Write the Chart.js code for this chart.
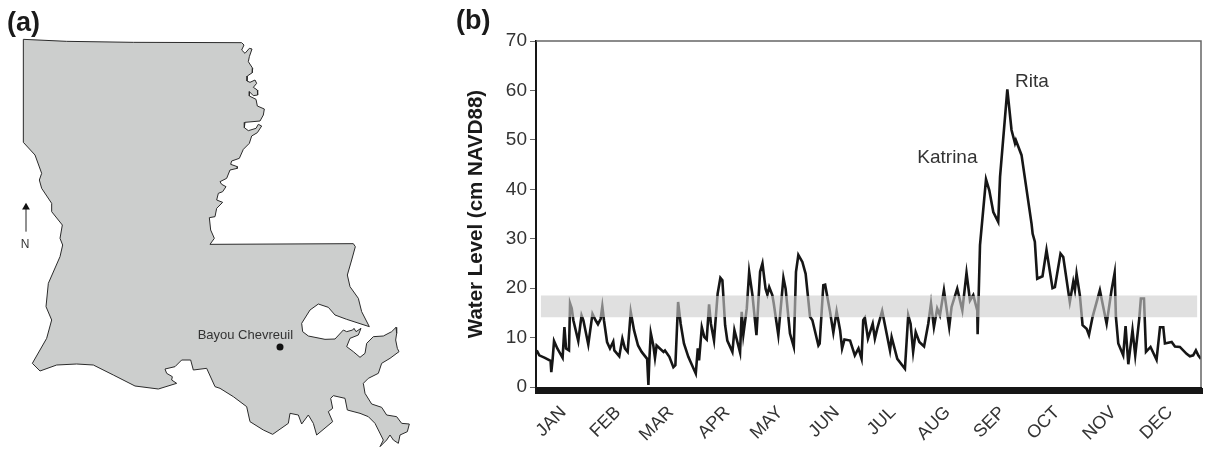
<!DOCTYPE html>
<html>
<head>
<meta charset="utf-8">
<title>Bayou Chevreuil water level</title>
<script src="https://cdn.jsdelivr.net/npm/chart.js@4"></script>
<style>
  body { margin: 0; background: #fff; width: 1205px; height: 449px; overflow: hidden; position: relative; }
  canvas { position: absolute; top: 0; }
  #map-chart { left: 0; }
  #level-chart { left: 450px; }
  .panel { position: absolute; font: bold 27px "Liberation Sans", sans-serif; color: #1a1a1a; }
</style>
</head>
<body>
<canvas id="map-chart" width="450" height="449"></canvas>
<canvas id="level-chart" width="755" height="449"></canvas>
<div class="panel" style="left:7px;top:7px">(a)</div>
<div class="panel" style="left:456px;top:5px">(b)</div>
<script>
  const months = ['JAN', 'FEB', 'MAR', 'APR', 'MAY', 'JUN', 'JUL', 'AUG', 'SEP', 'OCT', 'NOV', 'DEC'];
  const monthDays = [15, 45, 74, 105, 134, 165, 196, 226, 256, 286, 317, 348];
  const yTicks = [0, 10, 20, 30, 40, 50, 60, 70];

  const days = [
    0.4, 1.8, 4.9, 8, 8.4, 9.1, 9.9, 11.7, 14.6, 15.6, 16.5, 18.1, 18.7, 19.6, 20.5, 23.2, 25, 26, 28.7, 31,
    32.7, 34, 35.5, 36.4, 37.3, 39, 40.6, 42.4, 43, 45.7, 47.4, 48.8, 50.3, 52, 53.8, 56, 58, 61, 61.7, 62.2,
    63, 64.4, 65.3, 66.2, 70, 70.8, 73.2, 75.4, 76.5, 78, 79.4, 81.2, 83.6, 87.7, 88.8, 89.5, 91, 92.4, 93.7, 95,
    96, 97.7, 99.7, 101.2, 102.3, 103.8, 105, 107.8, 108.9, 112, 112.9, 113.8, 115.7, 117, 118.8, 121, 123, 124.3, 126, 127,
    128, 129.7, 130.5, 133, 135.8, 137, 139.4, 141.5, 142.7, 144, 146.2, 148, 150.4, 151.7, 155, 155.7, 157.7, 158.7, 161.4, 163.2,
    165, 166.9, 168, 169.3, 172.4, 175, 177, 178.7, 179.6, 180.5, 182.2, 184.8, 186, 187.3, 190, 194.3, 195.2, 198.3, 202.5, 204.3,
    205.6, 207, 208.4, 210.4, 213, 215.3, 216.8, 218.4, 220.2, 221.7, 223.9, 226.8, 228.1, 231.2, 234, 236.3, 238.2, 240, 242.2, 242.4,
    243.7, 247, 248.8, 251, 253.7, 254.7, 258.7, 261, 262.9, 263.4, 266.5, 272, 272.6, 273.8, 275.1, 278, 280.2, 283.5, 284.8, 287.9,
    289.4, 293, 294.9, 295.8, 296.7, 298.5, 300, 302.2, 303.5, 305.5, 309.5, 313.2, 315.9, 317.6, 318.3, 319.6, 322.3, 323.6, 325.1, 327.4,
    328.9, 331.1, 332, 333.7, 334.8, 337.3, 340.6, 342.5, 344.3, 345.2, 348.9, 350.7, 353.4, 357.1, 358.9, 360.7, 362.2, 363.5, 365
  ];
  const levels = [
    7.4, 6.4, 5.9, 5.3, 3, 5.5, 9.3, 7.8, 5.9, 12.1, 7.8, 7.4, 16.9, 15.9, 13.5, 9.3, 14.5, 13.5, 8.6, 14.8,
    13.5, 12.7, 13.8, 16.3, 13.5, 9.1, 7.8, 9.2, 7.4, 6.2, 9.8, 7.8, 7.1, 15.2, 11.5, 8.4, 7.1, 5.7, 0.4, 5.4,
    10.9, 8.4, 5.9, 8.4, 7.1, 7.4, 6.1, 4, 4.4, 17.2, 12.8, 8.8, 6.1, 2.7, 7.8, 5.4, 12.1, 10.1, 9.6, 16.7,
    12.8, 9.4, 18.9, 22.1, 21.6, 12.5, 9.4, 7.1, 11.5, 7, 15.2, 10.6, 15.9, 23.3, 18.6, 10.5, 23.3, 25, 19.9, 18.7,
    20.2, 18.6, 16.9, 10.5, 22.1, 19.9, 10.8, 8.1, 23.3, 26.7, 25.3, 22.9, 14.2, 13.5, 8.4, 8.8, 20.6, 20.7, 15.2, 11,
    15.3, 11.5, 7.8, 9.6, 9.4, 6.4, 7.8, 5.7, 13.5, 14, 9.8, 12.8, 9.8, 11.8, 15.4, 7.4, 10.1, 5.7, 3.7, 14.5,
    12.8, 7.1, 11.1, 9.1, 8.2, 12.8, 16.9, 12.1, 15.9, 14.5, 19.6, 12.1, 16.2, 19.9, 15.5, 23.1, 17.5, 18.6, 15.5, 10.7,
    28.7, 42, 39.8, 35.4, 33.4, 42.5, 60.2, 52, 49.3, 49.9, 46.9, 33, 31, 29.4, 21.9, 22.4, 27.7, 20, 20.2, 27,
    26.3, 17.2, 21.3, 19.6, 22.9, 18.6, 12.5, 11.8, 10.5, 14.2, 19.6, 12.8, 19.6, 23.1, 14.2, 8.8, 6.4, 12.3, 4.6, 11.5,
    6.4, 13.8, 17.9, 17.9, 7.1, 8.1, 5.5, 12.1, 12.1, 8.8, 9.1, 8.2, 8.1, 6.7, 6.2, 6.4, 7.4, 6.4, 5.7
  ];

  // reference band behind the line
  const bandDays = [2.6, 363];
  const bandLow = [14.1, 14.1];
  const bandHigh = [18.5, 18.5];

  const stormNames = ['Rita', 'Katrina'];
  const stormDays = [262.9, 225.8];
  const stormLevels = [61.7, 46.3];

  const stateX = [
    70, 200, 400, 725, 732, 725, 735, 748, 756, 748, 745, 758, 757, 742, 741, 750, 765, 770, 760, 772, 773, 760, 748, 748, 768, 772, 793, 790, 780, 735,
    733, 745, 768, 775, 785, 772, 755, 748, 730, 718, 695, 692, 712, 712, 690, 680, 660, 665, 678, 668, 655, 650, 668, 650, 645, 628, 632, 643, 630, 1060,
    1066, 1055, 1042, 1050, 1075, 1085, 1108, 1040, 1005, 985, 955, 930, 905, 908, 925, 975, 1005, 1030, 1040, 1058, 1062, 1068, 1083, 1075, 1050, 1040, 1060, 1080, 1095, 1100,
    1120, 1150, 1175, 1188, 1190, 1187, 1192, 1197, 1170, 1145, 1135, 1105, 1090, 1095, 1115, 1145, 1160, 1190, 1205, 1228, 1222, 1200, 1195, 1180, 1170, 1160, 1140, 1150, 1125, 1105,
    1080, 1042, 1035, 1000, 992, 998, 985, 998, 950, 940, 925, 905, 895, 870, 865, 818, 790, 750, 740, 700, 660, 645, 620, 580, 572, 545, 525, 495, 500, 517,
    515, 530, 475, 405, 340, 280, 230, 170, 120, 97, 140, 155, 138, 145, 180, 188, 180, 187, 155, 155, 125, 118, 125, 105, 70, 70
  ];
  const stateY = [
    118, 124, 127, 128, 135, 150, 160, 145, 147, 170, 185, 205, 218, 228, 243, 247, 240, 250, 262, 270, 285, 287, 275, 288, 298, 318, 327, 345, 363, 367,
    383, 392, 385, 373, 378, 398, 408, 430, 448, 475, 483, 493, 500, 505, 510, 535, 545, 553, 560, 575, 580, 600, 607, 625, 650, 653, 690, 715, 733, 731,
    740, 780, 825, 860, 895, 935, 980, 958, 945, 922, 912, 930, 970, 995, 1008, 1018, 1017, 990, 995, 990, 985, 995, 985, 1005, 1015, 1040, 1055, 1072, 1060, 1030,
    1010, 1008, 995, 982, 1000, 1020, 1045, 1055, 1075, 1090, 1120, 1135, 1150, 1180, 1212, 1222, 1245, 1250, 1270, 1272, 1295, 1305, 1330, 1320, 1305, 1320, 1340, 1320, 1270, 1250,
    1240, 1230, 1195, 1187, 1195, 1225, 1235, 1265, 1305, 1270, 1245, 1272, 1245, 1240, 1270, 1303, 1290, 1265, 1220, 1190, 1165, 1160, 1105, 1110, 1080, 1080, 1100, 1107, 1120, 1130,
    1140, 1150, 1167, 1158, 1125, 1095, 1092, 1095, 1113, 1090, 1015, 960, 920, 850, 770, 735, 715, 675, 635, 610, 565, 540, 520, 465, 427, 118
  ];
  const siteX = [840];
  const siteY = [1041];
  const arrowX = [78, 78];
  const arrowY = [695, 622];
  const mapNotes = ['Bayou Chevreuil', 'N'];
  const mapNoteX = [736, 75];
  const mapNoteY = [1005, 733];

  const toPoints = (xs, ys) => xs.map((x, i) => ({ x, y: ys[i] }));

  // line turns gray where it crosses the band
  function bandGradient(context) {
    const { chart } = context;
    if (!chart.chartArea) return '#161616';
    const y = chart.scales.y;
    const top = y.getPixelForValue(70);
    const bottom = y.getPixelForValue(0);
    const stop = (v) => (y.getPixelForValue(v) - top) / (bottom - top);
    const g = chart.ctx.createLinearGradient(0, top, 0, bottom);
    g.addColorStop(0, '#161616');
    g.addColorStop(stop(bandHigh[0]), '#161616');
    g.addColorStop(stop(bandHigh[0]), '#858585');
    g.addColorStop(stop(bandLow[0]), '#858585');
    g.addColorStop(stop(bandLow[0]), '#161616');
    g.addColorStop(1, '#161616');
    return g;
  }

  const frame = {
    id: 'frame',
    afterDatasetsDraw(chart) {
      const { ctx, chartArea: a } = chart;
      ctx.save();
      ctx.strokeStyle = '#666';
      ctx.lineWidth = 1.5;
      ctx.beginPath();
      ctx.moveTo(a.left, a.top);
      ctx.lineTo(a.right, a.top);
      ctx.lineTo(a.right, a.bottom);
      ctx.stroke();
      ctx.fillStyle = '#333';
      ctx.font = '19px "Liberation Sans", sans-serif';
      ctx.textAlign = 'left';
      ctx.textBaseline = 'middle';
      stormNames.forEach((name, i) => {
        const w = name === 'Katrina' ? ctx.measureText(name).width / 2 : 0;
        ctx.fillText(name, chart.scales.x.getPixelForValue(stormDays[i]) - w, chart.scales.y.getPixelForValue(stormLevels[i]));
      });
      ctx.restore();
    }
  };

  new Chart(document.getElementById('level-chart'), {
    type: 'scatter',
    data: {
      datasets: [
        {
          data: toPoints(days, levels),
          showLine: true,
          borderColor: bandGradient,
          borderWidth: 2.6,
          tension: 0,
          pointRadius: 0
        },
        {
          data: toPoints(bandDays, bandHigh),
          showLine: true,
          borderWidth: 0,
          pointRadius: 0,
          backgroundColor: '#e0e0e0',
          fill: 2
        },
        {
          data: toPoints(bandDays, bandLow),
          showLine: true,
          borderWidth: 0,
          pointRadius: 0
        }
      ]
    },
    options: {
      responsive: false,
      animation: false,
      layout: { autoPadding: false, padding: { top: 41, right: 4 } },
      plugins: { legend: { display: false }, tooltip: { enabled: false } },
      scales: {
        x: {
          type: 'linear',
          min: 0,
          max: 365,
          afterFit(scale) {
            scale.height = 62;
            scale.paddingLeft = 0;
            scale.paddingRight = 0;
          },
          grid: { drawOnChartArea: false, tickLength: 7, tickWidth: 3, tickColor: '#161616' },
          border: { color: '#161616', width: 1 },
          ticks: {
            stepSize: 1,
            autoSkip: false,
            minRotation: 45,
            maxRotation: 45,
            padding: 8,
            color: '#333',
            font: { family: '"Liberation Sans", sans-serif', size: 18 },
            callback(value) {
              const i = monthDays.indexOf(value);
              return i >= 0 ? months[i] : '';
            }
          }
        },
        y: {
          min: 0,
          max: 70,
          afterFit(scale) { scale.width = 86; },
          afterBuildTicks(scale) { scale.ticks = yTicks.map((value) => ({ value })); },
          grid: { drawOnChartArea: false, tickLength: 6, tickColor: '#666' },
          border: { color: '#161616', width: 2 },
          title: {
            display: true,
            text: 'Water Level (cm NAVD88)',
            color: '#1a1a1a',
            padding: { top: 14, bottom: 0 },
            font: { family: '"Liberation Sans", sans-serif', size: 20.5, weight: 'bold' }
          },
          ticks: {
            padding: 3,
            color: '#333',
            font: { family: '"Liberation Sans", sans-serif', size: 19 }
          }
        }
      }
    },
    plugins: [frame]
  });

  const mapText = {
    id: 'mapText',
    afterDatasetsDraw(chart) {
      const { ctx, scales } = chart;
      ctx.save();
      ctx.fillStyle = '#333';
      ctx.textAlign = 'center';
      ctx.textBaseline = 'middle';
      mapNotes.forEach((note, i) => {
        ctx.font = (note === 'N' ? 12 : 13) + 'px "Liberation Sans", sans-serif';
        ctx.fillText(note, scales.x.getPixelForValue(mapNoteX[i]), scales.y.getPixelForValue(mapNoteY[i]));
      });
      ctx.restore();
    }
  };

  new Chart(document.getElementById('map-chart'), {
    type: 'scatter',
    data: {
      datasets: [
        {
          data: toPoints(siteX, siteY),
          pointRadius: 3.5,
          pointBackgroundColor: '#111',
          pointBorderWidth: 0
        },
        {
          data: toPoints(arrowX, arrowY),
          showLine: true,
          borderColor: '#222',
          borderWidth: 1,
          pointRadius: [0, 4.5],
          pointStyle: 'triangle',
          pointBackgroundColor: '#111',
          pointBorderWidth: 0
        },
        {
          data: toPoints(stateX, stateY),
          showLine: true,
          tension: 0,
          pointRadius: 0,
          borderColor: '#2a2a2a',
          borderWidth: 1,
          backgroundColor: '#cccecd',
          fill: 'shape'
        }
      ]
    },
    options: {
      responsive: false,
      animation: false,
      layout: { autoPadding: false },
      plugins: { legend: { display: false }, tooltip: { enabled: false } },
      scales: {
        x: { type: 'linear', display: false, min: 0, max: 1350 },
        y: { display: false, min: 0, max: 1347, reverse: true }
      }
    },
    plugins: [mapText]
  });
</script>
</body>
</html>
